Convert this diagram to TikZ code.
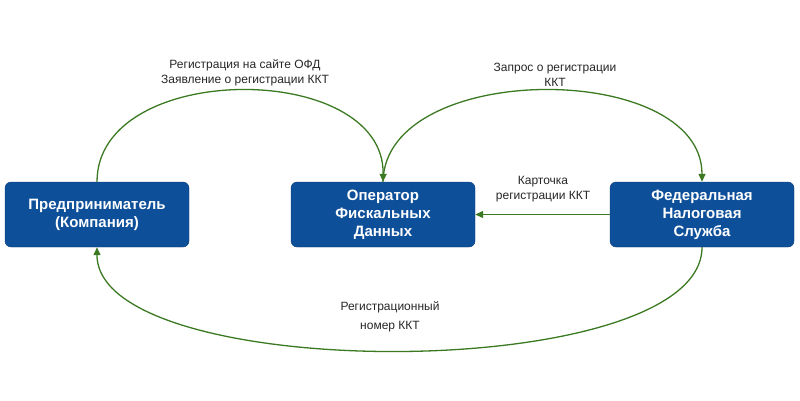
\documentclass[tikz,border=0pt]{standalone}
\usepackage{fontspec}
\setmainfont{Liberation Sans}
\usetikzlibrary{arrows.meta}
\definecolor{boxblue}{HTML}{0E4F99}
\definecolor{arrgreen}{HTML}{3B7A22}
\begin{document}
\begin{tikzpicture}[x=1pt,y=-1pt,
  box/.style={draw=boxblue!80!black,fill=boxblue,rounded corners=6pt,minimum width=184pt,minimum height=65pt,text=white,font=\bfseries\fontsize{15}{18}\selectfont,align=center,inner sep=2pt},
  conn/.style={draw=arrgreen,line width=1.3pt,-{Triangle[length=8pt,width=7pt]}},
  lbl/.style={font=\fontsize{12}{15}\selectfont,align=center,text=black!85}]
\useasboundingbox (0,0) rectangle (800,400);
\node[box] (L) at (97,214.5) {Предприниматель\\(Компания)};
\node[box] (M) at (383,214.5) {Оператор\\Фискальных\\Данных};
\node[box] (R) at (702,214.5) {Федеральная\\Налоговая\\Служба};
\draw[conn] (L.north) .. controls (97,60) and (385,60) .. (M.north);
\draw[conn] (M.north) .. controls (385,60) and (702,60) .. (R.north);
\draw[conn] (R.west) -- (M.east);
\draw[conn] (R.south) .. controls (702,385) and (97,385) .. (L.south);
\node[lbl] (t1) at (245,73) {Регистрация на сайте ОФД\\Заявление о регистрации ККТ};
\node[lbl] (t2) at (555,75) {Запрос о регистрации\\ККТ};
\node[lbl] (t3) at (543,189) {Карточка\\регистрации ККТ};
\node[lbl] (t4) at (390,307) {Регистрационный};
\node[lbl] (t5) at (390,327) {номер ККТ};
\end{tikzpicture}
\end{document}
